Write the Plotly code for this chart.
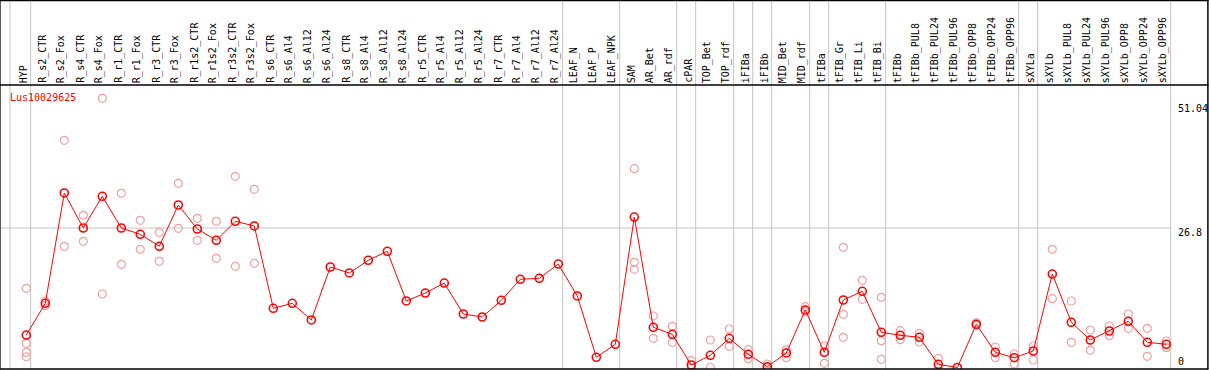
import plotly.graph_objects as go

categories = ["HYP", "R_s2_CTR", "R_s2_Fox", "R_s4_CTR", "R_s4_Fox", "R_r1_CTR", "R_r1_Fox",
              "R_r3_CTR", "R_r3_Fox", "R_r1s2_CTR", "R_r1s2_Fox", "R_r3s2_CTR", "R_r3s2_Fox",
              "R_s6_CTR", "R_s6_Al4", "R_s6_Al12", "R_s6_Al24", "R_s8_CTR", "R_s8_Al4", "R_s8_Al12",
              "R_s8_Al24", "R_r5_CTR", "R_r5_Al4", "R_r5_Al12", "R_r5_Al24", "R_r7_CTR", "R_r7_Al4",
              "R_r7_Al12", "R_r7_Al24", "LEAF_N", "LEAF_P", "LEAF_NPK", "SAM", "AR_Bet", "AR_rdf",
              "cPAR", "TOP_Bet", "TOP_rdf", "iFIBa", "iFIBb", "MID_Bet", "MID_rdf", "tFIBa",
              "tFIB_Gr", "tFIB_Li", "tFIB_Bi", "tFIBb", "tFIBb_PUL8", "tFIBb_PUL24", "tFIBb_PUL96",
              "tFIBb_OPP8", "tFIBb_OPP24", "tFIBb_OPP96", "sXYLa", "sXYLb", "sXYLb_PUL8",
              "sXYLb_PUL24", "sXYLb_PUL96", "sXYLb_OPP8", "sXYLb_OPP24", "sXYLb_OPP96"]

mean_values = [6.24, 12.33, 33.53, 26.8, 32.89, 26.8, 25.59, 23.29, 31.22, 26.61, 24.44, 28.09, 27.19,
               11.37, 12.33, 9.13, 19.31, 18.16, 20.6, 22.32, 12.78, 14.31, 16.23, 10.28, 9.7,
               12.91, 16.95, 17.14, 19.88, 13.74, 1.96, 4.46, 28.91, 7.72, 6.38, 0.48, 2.34, 5.61,
               2.54, 0.15, 2.79, 11.05, 2.92, 12.97, 14.64, 6.76, 6.19, 5.8, 0.61, 0.0, 8.3, 2.92,
               1.88, 3.17, 17.96, 8.68, 5.28, 7.01, 8.88, 4.84, 4.46]

N = None
rep_a = [15.22, 12.78, 43.65, 29.24, 51.72, 33.47, 28.28, 25.97, 35.39, 28.66, 28.09, 36.73, 34.24,
         N, N, N, N, N, N, N, N, N, N, N, N, N, N, N, N, N, N, N,
         38.19, 9.89, 7.92, 1.31, 5.28, 7.4, 3.42, 0.67, 3.42, 11.68, 4.13, 23.09, 16.75, 13.49,
         7.07, 6.57, 1.77, N, 8.6, 3.94, 2.59, 4.13, 22.71, 12.78, 7.2, 7.97, 10.28, 7.53, 5.09]
rep_b = [4.65, 11.87, 23.29, 24.25, 14.12, 19.83, 22.71, 20.4, 26.74, 24.44, 20.98, 19.44, 20.02,
         N, N, N, N, N, N, N, N, N, N, N, N, N, N, N, N, N, N, N,
         20.21, 5.61, 4.84, 0.0, 0.0, 4.07, 1.69, 0.0, 1.88, 10.72, 0.81, 10.22, 13.1, 5.15,
         5.34, 4.9, 0.0, N, 8.1, 1.88, 0.67, 1.44, 13.22, 4.84, 3.3, 6.11, 7.53, 2.15, 3.8]
rep_c = [2.92, N, N, N, N, N, N, N, N, N, N, N, N,
         N, N, N, N, N, N, N, N, N, N, N, N, N, N, N, N, N, N, N,
         18.87, N, N, N, N, N, N, N, N, N, N, 5.8, N, 1.58,
         N, N, N, N, N, N, N, N, N, N, N, N, N, N, N, N, N]
rep_d = [2.07] + [N] * 60

gene_label = "Lus10029625"
y_ticks = [51.04, 26.8, 0]
y_tick_text = ["51.04", "26.8", "0"]
y_tick_shift = [-7, -4.5, 6]
grid_value = 26.8
separators = [-0.858, 0.23, 28.23, 31.23, 34.23, 35.23, 37.23, 38.23, 39.23, 41.23, 42.23,
              45.23, 52.23, 53.23, 60.23]

W, H = 1209, 370
ML, MR, MT, MB = 1, 1, 85, 1
plot_h = H - MT - MB
x_idx = list(range(len(categories)))
FONT = "DejaVu Sans Mono"

fig = go.Figure()

rx, ry = [], []
for rep in (rep_a, rep_b, rep_c, rep_d):
    for i, v in enumerate(rep):
        if v is not None:
            rx.append(i)
            ry.append(v)
fig.add_trace(go.Scatter(x=rx, y=ry, mode="markers", cliponaxis=True,
                         marker=dict(symbol="circle-open", size=8, color="#f0a0a0",
                                     line=dict(width=1.2, color="#f0a0a0")),
                         hoverinfo="skip", showlegend=False))
fig.add_trace(go.Scatter(x=x_idx, y=mean_values, mode="lines+markers", cliponaxis=True,
                         line=dict(color="#ff0000", width=1),
                         marker=dict(symbol="circle-open", size=8, color="#ff0000",
                                     line=dict(width=1.6, color="#ff0000")),
                         text=categories, showlegend=False))

x_lo = (ML - 26.3) / 19
x_hi = (W - MR - 26.3) / 19
px_per_unit = 5.205
y_lo = -(369 - 367.5) / px_per_unit
y_hi = y_lo + plot_h / px_per_unit

shapes = []
top_paper = (plot_h + MT) / plot_h
for s in separators:
    shapes.append(dict(type="line", xref="x", yref="paper", x0=s, x1=s, y0=0, y1=top_paper,
                       line=dict(color="#c4c4c4", width=1), layer="below"))
shapes.append(dict(type="line", xref="x", yref="y", x0=x_lo, x1=separators[-1], y0=grid_value,
                   y1=grid_value, line=dict(color="#c4c4c4", width=1), layer="below"))
left_paper = -0.5 / (W - ML - MR)
right_paper = 1 + 0.5 / (W - ML - MR)
shapes += [
    dict(type="line", xref="paper", yref="paper", x0=left_paper - 0.001, x1=right_paper,
         y0=top_paper - 0.5 / plot_h, y1=top_paper - 0.5 / plot_h, line=dict(color="black", width=1.5)),
    dict(type="line", xref="paper", yref="paper", x0=left_paper - 0.001, x1=right_paper,
         y0=1, y1=1, line=dict(color="black", width=1.5)),
    dict(type="line", xref="paper", yref="paper", x0=left_paper - 0.001, x1=right_paper,
         y0=0, y1=0, line=dict(color="black", width=1.5)),
    dict(type="line", xref="paper", yref="paper", x0=left_paper - 0.0005, x1=left_paper - 0.0005,
         y0=0, y1=top_paper, line=dict(color="black", width=1.5)),
    dict(type="line", xref="paper", yref="paper", x0=right_paper - 0.0005, x1=right_paper - 0.0005,
         y0=0, y1=top_paper, line=dict(color="black", width=1.5)),
]

annotations = []
for i, c in enumerate(categories):
    annotations.append(dict(x=i, y=1, xref="x", yref="paper", text=c, showarrow=False,
                            textangle=-90, xanchor="center", yanchor="bottom", xshift=-3, yshift=1,
                            borderpad=0, font=dict(family=FONT, size=10, color="black")))
annotations.append(dict(x=(9 - ML) / (W - ML - MR), y=(369 - 97.5) / plot_h, xref="paper", yref="paper",
                        text=gene_label, showarrow=False, xanchor="left", yanchor="middle",
                        borderpad=0, font=dict(family=FONT, size=10, color="#ff0000")))
for v, t, sh in zip(y_ticks, y_tick_text, y_tick_shift):
    annotations.append(dict(x=(1177 - ML) / (W - ML - MR), y=v, xref="paper", yref="y", text=t,
                            showarrow=False, xanchor="left", yanchor="middle", yshift=sh,
                            borderpad=0, font=dict(family=FONT, size=10, color="black")))

fig.update_layout(
    width=W, height=H, autosize=False,
    margin=dict(l=ML, r=MR, t=MT, b=MB, pad=0),
    paper_bgcolor="white", plot_bgcolor="white",
    xaxis=dict(range=[x_lo, x_hi], showgrid=False, zeroline=False, showticklabels=False,
               showline=False, ticks="", fixedrange=True),
    yaxis=dict(range=[y_lo, y_hi], showgrid=False, zeroline=False, showticklabels=False,
               showline=False, ticks="", fixedrange=True),
    shapes=shapes, annotations=annotations, showlegend=False,
)

fig.write_html("out.html", config={"displayModeBar": False},
               post_script="document.body.style.margin='0';document.body.style.overflow='hidden';")
